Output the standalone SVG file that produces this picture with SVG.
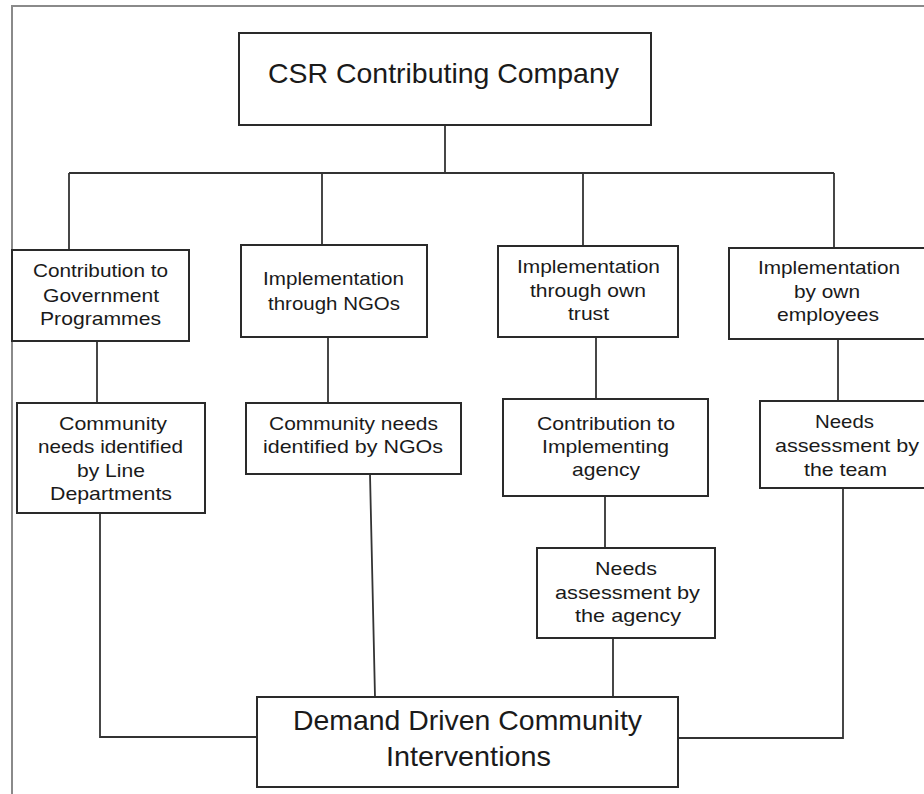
<svg xmlns="http://www.w3.org/2000/svg" width="924" height="794" viewBox="0 0 924 794">
<style>
.box{fill:#fff;stroke:#2a2a2a;stroke-width:2}
.ln{fill:none;stroke:#333;stroke-width:1.8}
.frame{fill:none;stroke:#8a8a8a;stroke-width:2}
text{font-family:"Liberation Sans",Arial,sans-serif;fill:#1a1a1a}
.s{font-size:19px}
.b{font-size:28px}
</style>
<rect width="924" height="794" fill="#fff"/>
<path class="frame" d="M12,794 V6 H924"/>
<g id="connectors">
<path class="ln" d="M445,125 V173 M69,173 H834 M69,173 V250 M322,173 V245 M583,173 V246 M834,173 V248"/>
<path class="ln" d="M97,341 V403 M328,337 V403 M596,337 V399 M838,339 V401 M605,496 V548"/>
<path class="ln" d="M100,513 V737 H257 M370,474 L375,697 M613,638 V697 M678,738 H843 V488"/>
</g>
<g id="n-csr">
<rect class="box" x="239" y="33" width="412" height="92"/>
<text class="b" x="268" y="83" textLength="351" lengthAdjust="spacingAndGlyphs">CSR Contributing Company</text>
</g>
<g id="n-gov">
<rect class="box" x="12" y="250" width="177" height="91"/>
<text class="s" x="33" y="277" textLength="135" lengthAdjust="spacingAndGlyphs">Contribution to</text>
<text class="s" x="43" y="302" textLength="116" lengthAdjust="spacingAndGlyphs">Government</text>
<text class="s" x="40" y="325" textLength="121" lengthAdjust="spacingAndGlyphs">Programmes</text>
</g>
<g id="n-ngo">
<rect class="box" x="241" y="245" width="186" height="92"/>
<text class="s" x="263" y="285" textLength="141" lengthAdjust="spacingAndGlyphs">Implementation</text>
<text class="s" x="268" y="310" textLength="132" lengthAdjust="spacingAndGlyphs">through NGOs</text>
</g>
<g id="n-trust">
<rect class="box" x="498" y="246" width="180" height="91"/>
<text class="s" x="517" y="273" textLength="143" lengthAdjust="spacingAndGlyphs">Implementation</text>
<text class="s" x="530" y="297" textLength="116" lengthAdjust="spacingAndGlyphs">through own</text>
<text class="s" x="568" y="320" textLength="41" lengthAdjust="spacingAndGlyphs">trust</text>
</g>
<g id="n-emp">
<rect class="box" x="729" y="248" width="205" height="91"/>
<text class="s" x="758" y="274" textLength="142" lengthAdjust="spacingAndGlyphs">Implementation</text>
<text class="s" x="794" y="298" textLength="66" lengthAdjust="spacingAndGlyphs">by own</text>
<text class="s" x="777" y="321" textLength="102" lengthAdjust="spacingAndGlyphs">employees</text>
</g>
<g id="n-line">
<rect class="box" x="17" y="403" width="188" height="110"/>
<text class="s" x="59" y="430" textLength="108" lengthAdjust="spacingAndGlyphs">Community</text>
<text class="s" x="38" y="453" textLength="145" lengthAdjust="spacingAndGlyphs">needs identified</text>
<text class="s" x="77" y="477" textLength="68" lengthAdjust="spacingAndGlyphs">by Line</text>
<text class="s" x="50" y="500" textLength="122" lengthAdjust="spacingAndGlyphs">Departments</text>
</g>
<g id="n-ngoneeds">
<rect class="box" x="246" y="403" width="215" height="71"/>
<text class="s" x="269" y="430" textLength="169" lengthAdjust="spacingAndGlyphs">Community needs</text>
<text class="s" x="263" y="453" textLength="180" lengthAdjust="spacingAndGlyphs">identified by NGOs</text>
</g>
<g id="n-agencycontrib">
<rect class="box" x="503" y="399" width="205" height="97"/>
<text class="s" x="537" y="430" textLength="138" lengthAdjust="spacingAndGlyphs">Contribution to</text>
<text class="s" x="542" y="453" textLength="127" lengthAdjust="spacingAndGlyphs">Implementing</text>
<text class="s" x="572" y="476" textLength="68" lengthAdjust="spacingAndGlyphs">agency</text>
</g>
<g id="n-team">
<rect class="box" x="760" y="401" width="174" height="87"/>
<text class="s" x="815" y="428" textLength="59" lengthAdjust="spacingAndGlyphs">Needs</text>
<text class="s" x="775" y="452" textLength="144" lengthAdjust="spacingAndGlyphs">assessment by</text>
<text class="s" x="804" y="476" textLength="83" lengthAdjust="spacingAndGlyphs">the team</text>
</g>
<g id="n-agencyneeds">
<rect class="box" x="537" y="548" width="178" height="90"/>
<text class="s" x="595" y="575" textLength="62" lengthAdjust="spacingAndGlyphs">Needs</text>
<text class="s" x="555" y="599" textLength="145" lengthAdjust="spacingAndGlyphs">assessment by</text>
<text class="s" x="575" y="622" textLength="106" lengthAdjust="spacingAndGlyphs">the agency</text>
</g>
<g id="n-demand">
<rect class="box" x="257" y="697" width="421" height="90"/>
<text class="b" x="293" y="730" textLength="349" lengthAdjust="spacingAndGlyphs">Demand Driven Community</text>
<text class="b" x="386" y="766" textLength="165" lengthAdjust="spacingAndGlyphs">Interventions</text>
</g>
</svg>
